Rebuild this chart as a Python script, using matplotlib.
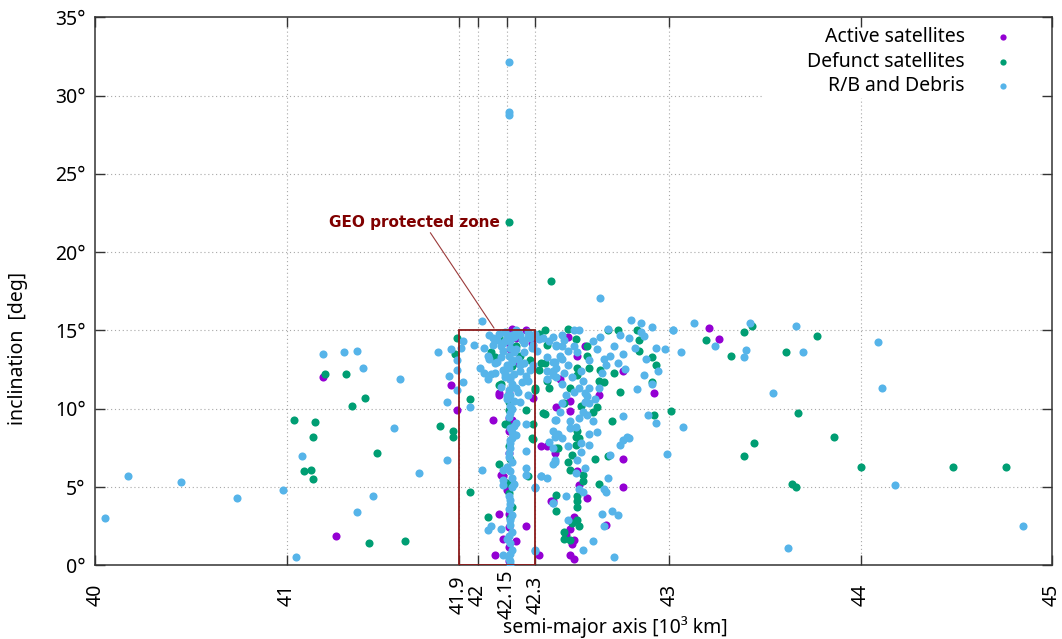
import numpy as np
import matplotlib
matplotlib.use("Agg")
import matplotlib.pyplot as plt
from matplotlib.patches import Rectangle

plt.rcParams['font.family'] = ['Noto Sans', 'DejaVu Sans']

# semi-major axis [10^3 km] and inclination [deg]
active_a = [41.19, 41.26, 41.86, 41.89, 42.18, 42.25, 42.17, 42.20, 42.11, 42.08,
            42.16, 42.29, 42.41, 42.16, 42.16, 42.11, 42.09, 42.13, 42.20, 42.25,
            42.32, 42.13, 42.33, 42.40, 42.38, 42.47, 42.56, 42.52, 42.43, 42.63,
            42.48, 42.48, 42.76, 42.92, 42.52, 42.76, 42.53, 42.76, 42.57, 42.50,
            42.67, 42.46, 42.50, 42.49, 42.48, 42.50, 43.21, 43.26, 42.11, 42.18,
            42.16, 42.12, 42.15, 42.16, 42.16, 42.16, 42.16, 42.36, 42.39, 42.48,
            42.18, 42.17, 42.19, 42.17, 42.28]
active_i = [12.0, 1.9, 11.5, 9.9, 15.1, 15.0, 13.8, 14.5, 10.9, 9.3,
            11.0, 10.7, 10.1, 9.4, 8.6, 3.3, 0.65, 1.7, 1.55, 2.5,
            0.65, 5.7, 7.6, 7.15, 4.1, 14.6, 14.0, 13.4, 11.9, 10.9,
            10.5, 9.85, 12.4, 11.0, 6.0, 6.8, 5.1, 5.0, 4.3, 3.1,
            2.6, 1.95, 1.6, 1.35, 0.65, 0.4, 15.15, 14.45, 11.0, 9.3,
            7.15, 5.8, 4.8, 3.3, 2.45, 1.2, 0.25, 7.6, 4.1, 2.35,
            5.3, 9.0, 12.9, 14.1, 14.2]

defunct_a = [41.04, 41.09, 41.13, 41.14, 41.14, 41.15, 41.20, 41.31, 41.34, 41.41,
             41.47, 41.43, 41.62, 41.89, 41.88, 41.80, 41.87, 41.87, 41.96, 41.96,
             42.05, 42.07, 42.09, 42.11, 42.11, 42.14, 42.12, 42.22, 42.32, 42.35,
             42.33, 42.32, 42.30, 42.37, 42.25, 42.34, 42.16, 42.29, 42.11, 42.26,
             42.28, 42.41, 42.41, 42.41, 42.47, 42.51, 42.57, 42.57, 42.58, 42.52,
             42.52, 42.64, 42.71, 42.63, 42.48, 42.45, 42.54, 42.62, 42.60, 42.52,
             42.70, 42.66, 42.74, 42.91, 42.93, 42.84, 42.73, 42.83, 42.84, 42.51,
             42.53, 42.42, 42.51, 42.49, 42.47, 42.61, 42.68, 42.48, 42.55, 42.55,
             42.63, 42.52, 42.52, 42.52, 42.52, 42.49, 42.53, 42.45, 42.45, 42.48,
             43.19, 43.32, 43.39, 43.43, 43.61, 43.01, 43.67, 43.77, 43.86, 43.44,
             43.39, 44.00, 44.48, 44.76, 43.64, 43.66, 42.16, 42.38, 42.92, 42.91,
             42.68, 42.15, 42.16, 42.15, 42.16, 42.18, 42.36, 42.35, 42.36, 42.30,
             42.35, 42.29, 42.17, 42.17, 42.16, 42.18, 42.20, 42.27]
defunct_i = [9.3, 6.0, 6.1, 5.5, 8.2, 9.15, 12.2, 12.2, 10.2, 10.7,
             7.2, 1.4, 1.55, 14.5, 13.5, 8.9, 8.6, 8.2, 10.6, 4.7,
             3.1, 13.6, 13.3, 14.6, 11.5, 9.0, 11.6, 13.4, 14.8, 15.0,
             12.9, 12.5, 11.3, 11.3, 9.9, 9.7, 9.9, 9.0, 6.45, 5.7,
             8.1, 7.5, 4.5, 3.5, 15.1, 14.45, 14.0, 13.4, 12.6, 12.6,
             12.15, 12.5, 12.3, 11.8, 11.3, 10.35, 10.2, 10.1, 9.8, 8.55,
             9.2, 11.7, 11.05, 13.3, 12.8, 13.7, 15.0, 15.0, 14.4, 8.2,
             8.1, 7.5, 7.7, 7.05, 6.6, 6.8, 7.0, 6.1, 5.75, 5.4,
             5.2, 4.4, 4.1, 3.75, 2.9, 2.7, 2.5, 2.15, 1.7, 1.6,
             14.4, 13.4, 14.9, 15.3, 13.6, 9.85, 9.75, 14.65, 8.2, 7.8,
             7.0, 6.25, 6.25, 6.3, 5.2, 5.0, 21.9, 18.15, 9.6, 11.7,
             15.0, 9.0, 7.6, 5.25, 4.6, 3.75, 14.1, 12.9, 11.8, 11.2,
             9.65, 8.05, 3.0, 6.8, 10.4, 12.7, 14.0, 13.1]

debris_a = [40.05, 40.17, 40.45, 40.74, 40.98, 41.05, 41.08, 41.19, 41.30, 41.37,
            41.40, 41.56, 41.45, 41.37, 41.59, 41.79, 41.86, 41.89, 41.89, 41.85,
            41.89, 41.84, 41.84, 41.69, 42.02, 41.92, 41.91, 41.92, 41.96, 41.98,
            42.03, 42.06, 42.08, 42.09, 42.01, 42.12, 42.05, 42.07,
            42.15, 42.18, 42.22, 42.17, 42.16, 42.18, 42.27, 42.29, 42.32, 42.37,
            42.41, 42.29, 42.36, 42.40, 42.27, 42.22, 42.23, 42.17, 42.14, 42.16,
            42.18, 42.26, 42.36, 42.41, 42.17, 42.20, 42.25, 42.39, 42.20,
            42.14, 42.20, 42.24, 42.13, 42.19, 42.21, 42.15, 42.24, 42.13, 42.19,
            42.20, 42.15, 42.19, 42.17, 42.19, 42.17, 42.18, 42.15, 42.22, 42.10,
            42.14, 42.26, 42.30, 42.34, 42.39, 42.44, 42.06, 42.03,
            42.15, 42.13, 42.17, 42.17, 42.18, 42.15, 42.17, 42.17, 42.17, 42.16,
            42.18, 42.16, 42.17, 42.16,
            42.02, 42.07, 42.05, 42.12, 42.13, 42.30, 42.13, 42.13, 42.25, 42.25,
            42.30, 42.25, 42.19, 42.33, 42.36, 42.40, 42.37, 42.39,
            42.50, 42.53, 42.45, 42.41, 42.44, 42.50, 42.60, 42.52, 42.58, 42.39,
            42.44, 42.47, 42.41, 42.39, 42.45, 42.55, 42.65, 42.67, 42.69, 42.77,
            42.63, 42.53, 42.58, 42.56, 42.46, 42.44, 42.57, 42.58, 42.55, 42.57,
            42.60, 42.48, 42.51, 42.53, 42.42, 42.40, 42.58, 42.62, 42.76, 42.78,
            42.83, 42.91, 42.87, 42.88, 42.93, 42.94, 42.82, 42.76, 42.79, 42.74,
            42.68, 42.80, 42.85, 42.91, 42.87, 43.02, 42.98,
            42.40, 42.44, 42.39, 42.47, 42.54, 42.58, 42.54, 42.40, 42.52, 42.69,
            42.74, 42.76, 42.79, 42.99, 42.51, 42.56, 42.68, 42.53, 42.55, 42.66,
            42.67, 42.39, 42.46, 42.65, 42.70, 42.73, 42.66, 42.47, 42.60, 42.55,
            42.71,
            43.02, 43.13, 43.24, 43.06, 43.42, 43.40, 43.39, 43.54, 43.66, 43.70,
            43.07, 44.09, 44.11, 44.18, 44.85, 43.62, 42.16, 42.16, 42.16, 42.64,
            42.89, 42.93, 42.33, 42.30, 42.30, 42.36, 42.39, 42.41, 42.39, 42.85,
            # dense vertical band near 42.17
            42.17, 42.18, 42.16, 42.17, 42.18, 42.17, 42.16, 42.18, 42.17, 42.18,
            42.16, 42.17, 42.18, 42.17, 42.16, 42.18, 42.17, 42.18, 42.17, 42.16,
            42.18, 42.17, 42.19,
            # crowd at the top of the zone
            42.08, 42.11, 42.13, 42.21, 42.23, 42.26, 42.05, 42.10, 42.12, 42.20,
            42.24, 42.28, 42.09, 42.14, 42.22, 42.25, 42.31, 42.12, 42.21, 42.26,
            42.43, 42.47, 42.49, 42.54, 42.44, 42.50, 42.56, 42.61, 42.48, 42.43,
            42.62, 42.66, 42.71, 42.73, 42.64]
debris_i = [3.0, 5.7, 5.3, 4.3, 4.8, 0.5, 7.0, 13.5, 13.6, 13.7,
            12.6, 8.8, 4.4, 3.4, 11.9, 13.6, 13.8, 13.1, 12.5, 12.1,
            11.2, 10.4, 6.7, 5.9, 15.6, 14.3, 13.9, 11.7, 10.1, 14.1,
            13.9, 14.7, 14.1, 12.9, 12.6, 14.0, 11.9, 12.2,
            14.7, 14.7, 14.7, 14.3, 13.4, 13.0, 14.5, 14.1, 14.45, 14.3,
            14.1, 12.8, 13.3, 13.0, 12.5, 12.4, 11.7, 11.9, 12.2, 11.2,
            11.6, 11.8, 11.9, 12.0, 10.2, 9.1, 9.0, 8.6, 8.3,
            14.9, 15.0, 14.2, 13.7, 13.6, 13.2, 12.8, 12.9, 12.5, 12.2,
            11.3, 10.8, 10.5, 9.7, 8.9, 8.0, 8.5, 10.6, 10.4, 14.4,
            14.3, 14.9, 14.8, 14.5, 14.6, 14.7, 13.2, 12.3,
            6.3, 5.45, 4.2, 2.9, 2.15, 1.7, 0.75, 0.1, 7.8, 6.9,
            5.0, 3.6, 1.4, 0.4,
            6.1, 2.5, 2.25, 2.3, 0.65, 0.9, 6.1, 5.1, 6.2, 5.75,
            4.95, 7.3, 5.2, 5.7, 5.6, 6.7, 7.9, 4.0,
            15.0, 15.0, 14.4, 14.0, 14.0, 14.0, 14.3, 13.6, 13.1, 13.0,
            13.2, 12.8, 12.6, 12.15, 12.3, 11.8, 12.3, 12.8, 13.4, 12.55,
            11.3, 11.3, 11.3, 11.0, 10.9, 10.35, 10.8, 10.35, 9.8, 9.6,
            9.2, 9.2, 8.85, 9.4, 8.4, 9.3, 8.4, 8.5, 9.55, 8.2,
            11.25, 11.6, 12.15, 13.2, 13.85, 12.4, 13.85, 13.5, 14.5, 14.7,
            15.1, 15.65, 15.45, 15.2, 14.65, 15.0, 13.8,
            8.2, 8.1, 7.5, 7.6, 7.8, 7.7, 7.25, 6.6, 6.7, 7.05,
            7.7, 8.0, 8.15, 7.1, 5.9, 6.2, 5.55, 4.9, 4.7, 4.9,
            4.7, 4.0, 4.45, 3.3, 3.5, 3.2, 2.5, 2.9, 1.55, 1.0,
            0.5,
            15.05, 15.45, 14.0, 13.65, 15.45, 13.75, 13.3, 11.0, 15.3, 13.6,
            8.85, 14.25, 11.3, 5.1, 2.5, 1.1, 32.15, 28.95, 28.75, 17.1,
            9.6, 9.1, 5.7, 5.0, 0.95, 12.4, 12.4, 9.3, 6.5, 14.9,
            0.3, 1.0, 1.9, 2.6, 3.2, 3.9, 4.4, 5.6, 6.0, 6.6,
            7.2, 7.5, 8.1, 8.8, 9.5, 10.0, 10.9, 11.4, 12.0, 12.6,
            13.1, 13.9, 14.6,
            14.5, 14.8, 14.2, 14.9, 14.4, 14.6, 13.4, 13.0, 13.3, 13.8,
            13.6, 13.9, 12.3, 12.0, 12.8, 12.1, 13.7, 11.4, 11.1, 10.9,
            13.4, 13.7, 12.0, 12.4, 11.6, 11.1, 10.4, 10.6, 8.8, 9.8,
            13.8, 13.2, 14.0, 12.9, 14.6]

x_ticks = [40, 41, 41.9, 42, 42.15, 42.3, 43, 44, 45]
x_tick_labels = ['40', '41', '41.9', '42', '42.15', '42.3', '43', '44', '45']
y_ticks = [0, 5, 10, 15, 20, 25, 30, 35]
y_tick_labels = ['%d°' % v for v in y_ticks]

zone_a = (41.9, 42.3)
zone_i = (0, 15)

c_active = '#9400D3'
c_defunct = '#009E73'
c_debris = '#56B4E9'
c_zone = '#8B1A1A'

fig = plt.figure(figsize=(10.62, 6.39), dpi=100)
ax = fig.add_axes([0.0897, 0.1153, 0.9009, 0.8576])
ax.set_xlim(40, 45)
ax.set_ylim(0, 35)

# grid (dotted), left open where the key sits
grid_kw = dict(color='#a8a8a8', lw=0.8, ls=(0, (1, 2.5)), zorder=0.6)
for xv in x_ticks[1:-1]:
    ax.axvline(xv, ymax=(0.853 if xv == 44 else 1.0), **grid_kw)
for yv in y_ticks[1:-1]:
    ax.axhline(yv, xmax=(0.697 if yv == 30 else 1.0), **grid_kw)

ms = 34
ax.scatter(active_a, active_i, s=ms, color=c_active, linewidths=0, zorder=3)
ax.scatter(defunct_a, defunct_i, s=ms, color=c_defunct, linewidths=0, zorder=3)
ax.scatter(debris_a, debris_i, s=ms, color=c_debris, linewidths=0, zorder=3)

ax.add_patch(Rectangle((zone_a[0], zone_i[0]), zone_a[1] - zone_a[0], zone_i[1] - zone_i[0],
                       fill=False, edgecolor=c_zone, lw=1.3, zorder=4))
ax.annotate('GEO protected zone', xy=(42.084, 15.15), xytext=(41.67, 21.9),
            color='#800000', fontsize=11, fontweight='bold', family='DejaVu Sans',
            ha='center', va='center',
            arrowprops=dict(arrowstyle='-', color='#9B3A3A', lw=0.8,
                            shrinkA=0, shrinkB=0,
                            relpos=(0.58, 0.0)),
            zorder=5)

ax.set_xticks(x_ticks)
ax.set_xticklabels(x_tick_labels, rotation=90, va='center')
ax.set_yticks(y_ticks)
ax.set_yticklabels(y_tick_labels)
ax.tick_params(axis='both', direction='in', length=7, width=1, colors='#333333',
               labelcolor='black', labelsize=14, top=True, right=True)
ax.tick_params(axis='x', pad=21)
ax.tick_params(axis='y', pad=7)
for sp in ax.spines.values():
    sp.set_color('#333333')
    sp.set_linewidth(1.1)

fig.text(0.017, 0.455, 'inclination  [deg]', rotation=90, ha='center', va='center', fontsize=14)
fig.text(0.579, 0.019, 'semi-major axis [10³ km]', ha='center', va='center', fontsize=14)

# key: text right aligned, marker after it
keys = [('Active satellites', c_active), ('Defunct satellites', c_defunct),
        ('R/B and Debris', c_debris)]
key_y = [0.964, 0.918, 0.875]
for (lab, col), yk in zip(keys, key_y):
    ax.text(0.909, yk, lab, transform=ax.transAxes, ha='right', va='center', fontsize=14, zorder=6)
    ax.plot([0.949], [yk], marker='o', ms=4.5, color=col, mec='none', ls='none',
            transform=ax.transAxes, clip_on=False, zorder=6)

fig.savefig('out.png', dpi=100)
